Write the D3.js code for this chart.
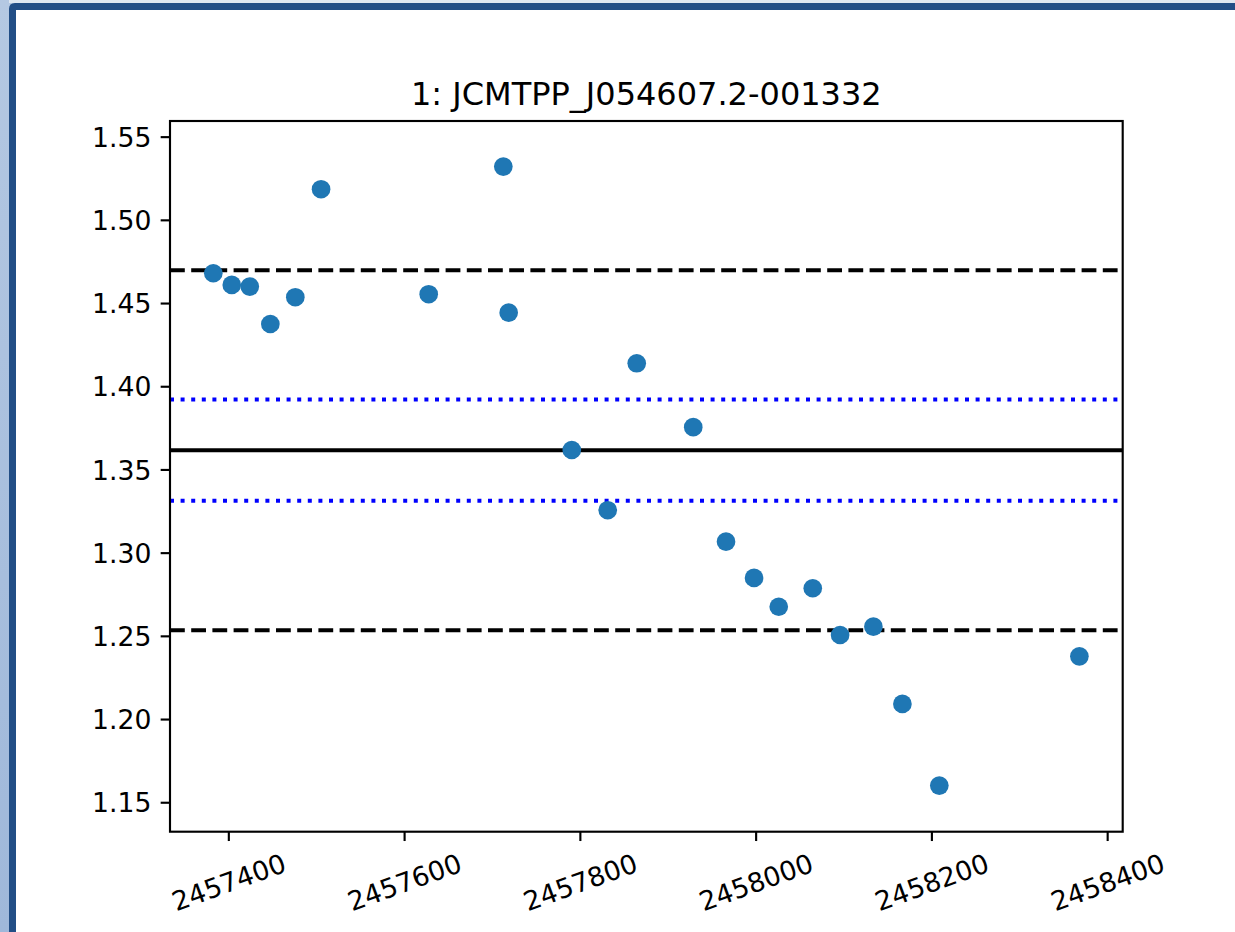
<!DOCTYPE html>
<html>
<head>
<meta charset="utf-8">
<script src="https://cdn.jsdelivr.net/npm/d3@7"></script>
<style>
  html, body { margin: 0; padding: 0; background: #fff; overflow: hidden; }
  .chart text { font-family: "DejaVu Sans", sans-serif; fill: #000; }
</style>
</head>
<body>
<div class="chart"></div>
<script>
// === Data ===
const title = "1: JCMTPP_J054607.2-001332";
const dates = [2457382.9, 2457403.9, 2457424.4, 2457447.8, 2457476.2, 2457505.5,
               2457628.0, 2457712.9, 2457719.0, 2457790.8, 2457831.7, 2457864.7,
               2457929.0, 2457966.3, 2457998.2, 2458026.3, 2458065.0, 2458096.1,
               2458134.0, 2458167.0, 2458209.0, 2458368.4];
const fluxes = [1.4679, 1.4609, 1.4599, 1.4374, 1.4535, 1.5184,
                1.4553, 1.5320, 1.4442, 1.3617, 1.3255, 1.4138,
                1.3754, 1.3066, 1.2848, 1.2675, 1.2786, 1.2505,
                1.2555, 1.2091, 1.1600, 1.2377];
const meanLine = [1.3616];
const sdLines = [1.3920, 1.3312];
const limitLines = [1.4697, 1.2533];
const xTicks = [2457400, 2457600, 2457800, 2458000, 2458200, 2458400];
const yTicks = [1.15, 1.20, 1.25, 1.30, 1.35, 1.40, 1.45, 1.50, 1.55];
const yLimits = [1.1323, 1.5594];

const points = dates.map((d, i) => ({date: d, flux: fluxes[i]}));

// page size + plot box (matplotlib figure at 192 dpi)
const W = 1235, H = 932;
const pt = 192 / 72;
const margin = {top: 121, right: W - 1122.7, bottom: H - 831.7, left: 170};
const width = W - margin.left - margin.right;
const height = H - margin.top - margin.bottom;

const root = d3.select(".chart").append("svg")
    .attr("width", W)
    .attr("height", H);

// window frame behind the figure
const grad = root.append("defs").append("linearGradient")
    .attr("id", "side").attr("x1", 0).attr("y1", 0).attr("x2", 0).attr("y2", 1);
grad.append("stop").attr("offset", "0%").attr("stop-color", "#b4c8e2");
grad.append("stop").attr("offset", "100%").attr("stop-color", "#9fb8da");
root.append("rect").attr("width", W).attr("height", H).attr("fill", "url(#side)");
root.append("rect").attr("x", 9).attr("width", W).attr("height", 3).attr("fill", "#dfe7f1");
root.append("path")
    .attr("d", "M9,932 L9,9 Q9,3 15,3 L1235,3 L1235,10 L16,10 L16,932 Z")
    .attr("fill", "#224e86");
root.append("rect").attr("x", 16).attr("y", 10).attr("width", W - 16).attr("height", H - 10)
    .attr("fill", "#fff");

const svg = root.append("g")
    .attr("transform", "translate(" + margin.left + "," + margin.top + ")");

// === Scales ===
const xExt = d3.extent(dates);
const xPad = (xExt[1] - xExt[0]) * 0.05;
const xScale = d3.scaleLinear()
    .domain([xExt[0] - xPad, xExt[1] + xPad])
    .range([0, width]);
const yScale = d3.scaleLinear()
    .domain(yLimits)
    .range([height, 0]);

// === Reference lines ===
svg.selectAll(".limit").data(limitLines).enter().append("line")
    .attr("class", "limit")
    .attr("x1", 0).attr("x2", width)
    .attr("y1", d => yScale(d)).attr("y2", d => yScale(d))
    .attr("stroke", "#000")
    .attr("stroke-width", 1.5 * pt)
    .attr("stroke-dasharray", (3.7 * 1.5 * pt) + "," + (1.6 * 1.5 * pt));

svg.selectAll(".sd").data(sdLines).enter().append("line")
    .attr("class", "sd")
    .attr("x1", 0).attr("x2", width)
    .attr("y1", d => yScale(d)).attr("y2", d => yScale(d))
    .attr("stroke", "#0000ff")
    .attr("stroke-width", 1.5 * pt)
    .attr("stroke-dasharray", (1 * 1.5 * pt) + "," + (1.65 * 1.5 * pt));

svg.selectAll(".mean").data(meanLine).enter().append("line")
    .attr("class", "mean")
    .attr("x1", 0).attr("x2", width)
    .attr("y1", d => yScale(d)).attr("y2", d => yScale(d))
    .attr("stroke", "#000")
    .attr("stroke-width", 1.5 * pt);

// === Points ===
svg.selectAll("circle").data(points).enter().append("circle")
    .attr("cx", d => xScale(d.date))
    .attr("cy", d => yScale(d.flux))
    .attr("r", 3.5 * pt)
    .attr("fill", "#1f77b4");

// === Axes ===
const xAxis = d3.axisBottom(xScale)
    .tickValues(xTicks)
    .tickFormat(d3.format("d"))
    .tickSize(3.5 * pt)
    .tickPadding(3.5 * pt);
const yAxis = d3.axisLeft(yScale)
    .tickValues(yTicks)
    .tickFormat(d3.format(".2f"))
    .tickSize(3.5 * pt)
    .tickPadding(3.5 * pt);

const gx = svg.append("g")
    .attr("class", "axis x-axis")
    .attr("transform", "translate(0," + height + ")")
    .call(xAxis);
gx.select(".domain").remove();
gx.selectAll(".tick line").attr("stroke-width", 0.8 * pt);
gx.selectAll(".tick text")
    .attr("font-size", 10 * pt)
    .attr("y", null).attr("dy", null)
    .attr("text-anchor", "middle")
    .attr("dominant-baseline", "central")
    .attr("transform", "translate(0," + 50.5 + ") rotate(-20)");

const gy = svg.append("g")
    .attr("class", "axis y-axis")
    .call(yAxis);
gy.select(".domain").remove();
gy.selectAll(".tick line").attr("stroke-width", 0.8 * pt);
gy.selectAll(".tick text")
    .attr("font-size", 10 * pt)
    .attr("dy", "0.36em");

// frame of the axes
svg.append("rect")
    .attr("width", width).attr("height", height)
    .attr("fill", "none")
    .attr("stroke", "#000")
    .attr("stroke-width", 0.8 * pt);

// title
svg.append("text")
    .attr("x", width / 2)
    .attr("y", -6 * pt)
    .attr("text-anchor", "middle")
    .attr("font-size", 12 * pt)
    .text(title);
</script>
</body>
</html>
